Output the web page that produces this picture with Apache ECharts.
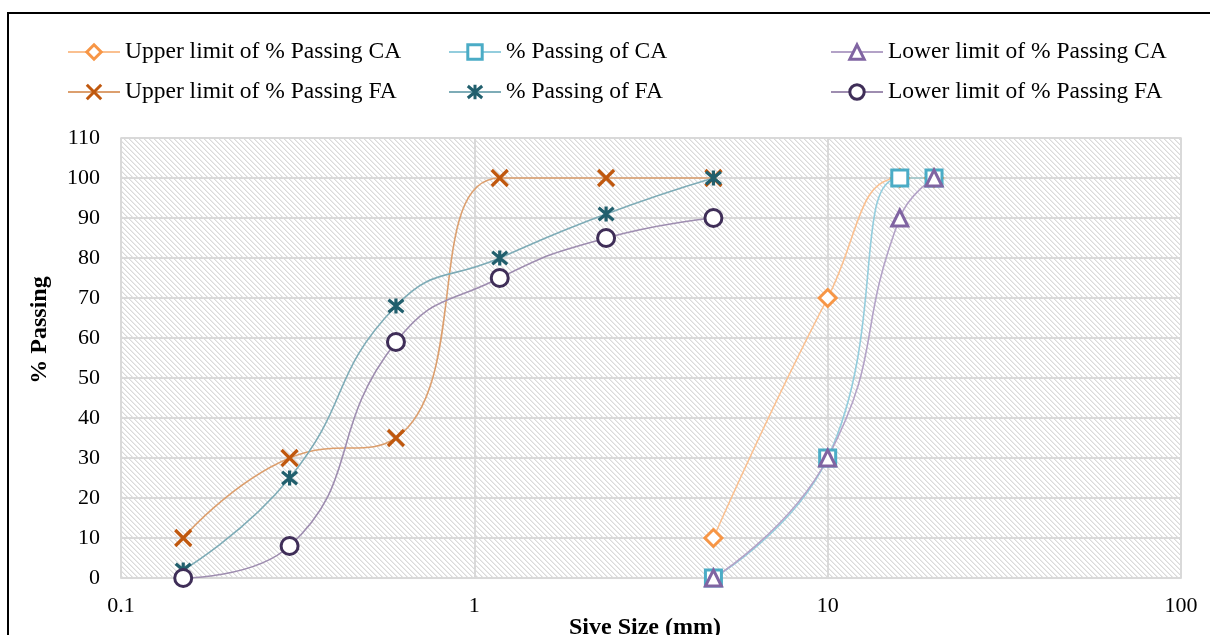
<!DOCTYPE html>
<html>
<head>
<meta charset="utf-8">
<script src="https://cdn.jsdelivr.net/npm/echarts@6/dist/echarts.min.js"></script>
<style>
  html, body { margin: 0; padding: 0; background: #fff; }
  #chart { width: 1210px; height: 635px; }
</style>
</head>
<body>
<div id="chart"></div>
<script>
// ---- data ----
const sieveCA = [4.75, 10, 16, 20];
const sieveFA = [0.15, 0.3, 0.6, 1.18, 2.36, 4.75];
const upperCA = [10, 70, 100, 100];
const passingCA = [0, 30, 100, 100];
const lowerCA = [0, 30, 90, 100];
const upperFA = [10, 30, 35, 100, 100, 100];
const passingFA = [2, 25, 68, 80, 91, 100];
const lowerFA = [0, 8, 59, 75, 85, 90];
const seriesNames = [
  'Upper limit of % Passing CA', '% Passing of CA', 'Lower limit of % Passing CA',
  'Upper limit of % Passing FA', '% Passing of FA', 'Lower limit of % Passing FA'
];
const xTickLabels = ['0.1', '1', '10', '100'];
const yTicks = [0, 110, 10];

function pairs(xs, ys) { return xs.map((x, i) => [x, ys[i]]); }

// hatch pattern
const P = 5;
const tile = document.createElement('canvas');
tile.width = P; tile.height = P;
const tctx = tile.getContext('2d');
tctx.fillStyle = '#ffffff';
tctx.fillRect(0, 0, P, P);
for (let y = 0; y < P; y++) {
  for (let x = 0; x < P; x++) {
    const d = ((x - y) % P + P) % P;
    if (d === 0) { tctx.fillStyle = '#dadada'; tctx.fillRect(x, y, 1, 1); }
    else if (d === 1) { tctx.fillStyle = '#ececec'; tctx.fillRect(x, y, 1, 1); }
  }
}

const FONT = "'Liberation Serif', 'Times New Roman', serif";
const X_PATH = 'path://M0,0L10,10M10,0L0,10';
const STAR_PATH = 'path://M0,0L10,10M10,0L0,10M5,-1L5,11';

function mk(name, xs, ys, lineColor, markColor, symbol, size, bw) {
  const isPath = symbol.indexOf('path://') === 0;
  return {
    name: name,
    type: 'line',
    data: pairs(xs, ys),
    smooth: 0.5,
    symbol: symbol,
    symbolSize: size,
    showAllSymbol: true,
    lineStyle: { color: lineColor, width: 1.6 },
    itemStyle: {
      color: isPath ? markColor : '#ffffff',
      borderColor: markColor,
      borderWidth: bw
    },
    emphasis: { disabled: true },
    animation: false
  };
}

const series = [
  mk(seriesNames[0], sieveCA, upperCA, '#FAC090', '#F79646', 'diamond', 17, 3),
  mk(seriesNames[1], sieveCA, passingCA, '#93CDDD', '#4BACC6', 'rect', 16, 3),
  mk(seriesNames[2], sieveCA, lowerCA, '#B3A2C7', '#8064A2', 'triangle', 16, 3),
  mk(seriesNames[3], sieveFA, upperFA, '#DC9F6E', '#C0580E', X_PATH, 16, 3.2),
  mk(seriesNames[4], sieveFA, passingFA, '#7EACB7', '#215F6D', STAR_PATH, 15, 3.2),
  mk(seriesNames[5], sieveFA, lowerFA, '#9E8DB0', '#3F2E58', 'circle', 17, 3)
];

function legendCol(names, left) {
  return {
    orient: 'vertical',
    left: left,
    top: 34,
    itemWidth: 52,
    itemHeight: 18,
    itemGap: 14,
    data: names,
    itemStyle: { borderWidth: 3 },
    textStyle: { fontFamily: FONT, fontSize: 23.5, color: '#000', lineHeight: 26, padding: [0, 0, 0, 0] },
    selectedMode: false
  };
}

const chart = echarts.init(document.getElementById('chart'), null, { renderer: 'canvas' });
chart.setOption({
  backgroundColor: '#ffffff',
  animation: false,
  legend: [
    legendCol([seriesNames[0], seriesNames[3]], 62),
    legendCol([seriesNames[1], seriesNames[4]], 443),
    legendCol([seriesNames[2], seriesNames[5]], 825)
  ],
  grid: {
    left: 121, right: 29, top: 138, bottom: 57,
    show: true,
    backgroundColor: { image: tile, repeat: 'repeat' },
    borderColor: '#d9d9d9',
    borderWidth: 1.5
  },
  xAxis: {
    type: 'log',
    logBase: 10,
    min: 0.1,
    max: 100,
    axisLine: { show: true, lineStyle: { color: '#d9d9d9', width: 1.5 } },
    axisTick: { show: false },
    splitLine: { show: true, lineStyle: { color: '#d9d9d9', width: 2 } },
    minorSplitLine: { show: false },
    axisLabel: {
      fontFamily: FONT, fontSize: 22, color: '#000', margin: 17,
      formatter: function (v) {
        const i = Math.round(Math.log10(v)) + 1;
        return xTickLabels[i] !== undefined ? xTickLabels[i] : String(v);
      }
    }
  },
  yAxis: {
    type: 'value',
    min: yTicks[0],
    max: yTicks[1],
    interval: yTicks[2],
    axisLine: { show: false },
    axisTick: { show: false },
    splitLine: { show: true, lineStyle: { color: '#d9d9d9', width: 2 } },
    axisLabel: { fontFamily: FONT, fontSize: 22, color: '#000', margin: 21 }
  },
  graphic: [
    {
      type: 'rect',
      shape: { x: 8, y: 13, width: 1400, height: 800 },
      style: { fill: 'none', stroke: '#000', lineWidth: 2 },
      silent: true, z: 100
    },
    {
      type: 'text',
      x: 40, y: 330,
      rotation: Math.PI / 2,
      style: { text: '% Passing', font: "bold 24px " + FONT, fill: '#000', align: 'center', verticalAlign: 'middle' },
      silent: true
    },
    {
      type: 'text',
      x: 645, y: 628,
      style: { text: 'Sive Size (mm)', font: "bold 24px " + FONT, fill: '#000', align: 'center', verticalAlign: 'middle' },
      silent: true
    }
  ],
  series: series
});
</script>
</body>
</html>
